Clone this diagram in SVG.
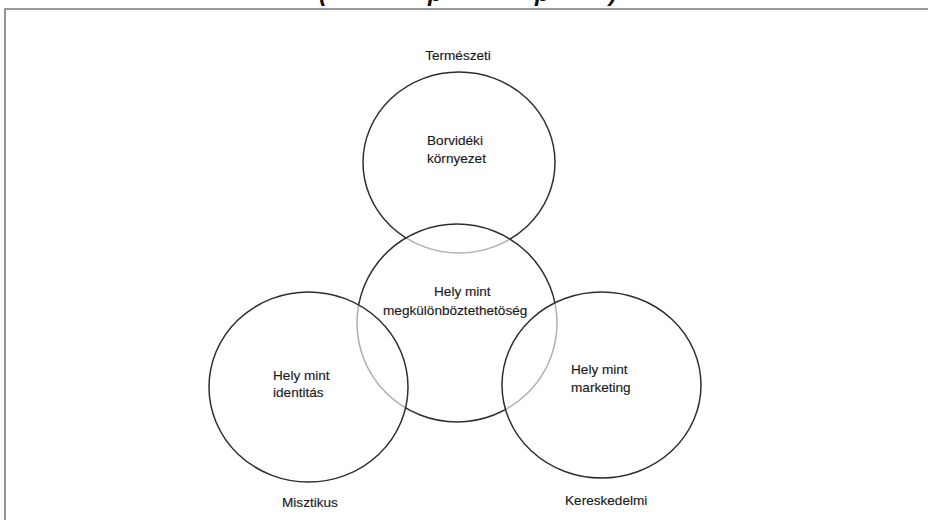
<svg xmlns="http://www.w3.org/2000/svg" width="928" height="520" viewBox="0 0 928 520">
  <style>
    .ring { stroke: #2e2e2e; stroke-width: 1.5; }
    .veil { fill: #ffffff; fill-opacity: 0.62; }
    .lbl { font-family: "Liberation Sans", Arial, sans-serif; font-size: 13.6px; fill: #1a1a1a; stroke: #1a1a1a; stroke-width: 0.15; }
    .frame { stroke: #7a7a7a; stroke-width: 1.6; fill: none; }
    .title { font-family: "Liberation Sans", Arial, sans-serif; font-size: 24px; font-weight: bold; font-style: italic; fill: #111111; }
  </style>
  <rect width="928" height="520" fill="#ffffff"/>

  <!-- caption line running above the frame -->
  <text class="title" y="0.5"><tspan x="319">(</tspan><tspan x="428">p</tspan><tspan x="535">p</tspan><tspan x="609">)</tspan></text>

  <!-- frame -->
  <path class="frame" d="M5 520 V9 H928"/>

  <!-- natural: wine region environment -->
  <g id="borvideki-kornyezet">
    <ellipse class="ring" cx="459" cy="162.5" rx="96" ry="90.5" fill="#ffffff"/>
    <text class="lbl" x="427" y="145">Borvidéki</text>
    <text class="lbl" x="427" y="163">környezet</text>
    <text class="lbl" x="458" y="60" text-anchor="middle">Természeti</text>
  </g>

  <!-- place as distinctiveness -->
  <g id="hely-megkulonboztethetoseg">
    <ellipse class="ring veil" cx="457" cy="323" rx="100" ry="99"/>
    <text class="lbl" x="434" y="296">Hely mint</text>
    <text class="lbl" x="383" y="315">megkülönböztethetöség</text>
  </g>

  <!-- mystical: place as identity -->
  <g id="hely-identitas">
    <ellipse class="ring veil" cx="308.5" cy="387" rx="99.5" ry="95"/>
    <text class="lbl" x="273" y="380">Hely mint</text>
    <text class="lbl" x="273" y="397">identitás</text>
    <text class="lbl" x="282" y="507">Misztikus</text>
  </g>

  <!-- commercial: place as marketing -->
  <g id="hely-marketing">
    <ellipse class="ring veil" cx="601.5" cy="385" rx="99.5" ry="93"/>
    <text class="lbl" x="571" y="374">Hely mint</text>
    <text class="lbl" x="571" y="392">marketing</text>
    <text class="lbl" x="565" y="505">Kereskedelmi</text>
  </g>
</svg>
